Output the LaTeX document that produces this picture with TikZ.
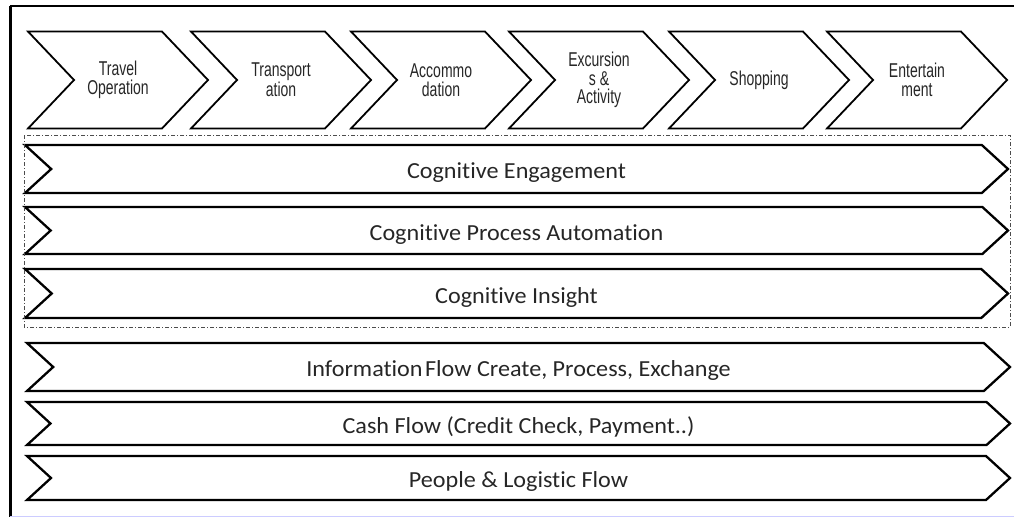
\documentclass[tikz,border=0pt]{standalone}
\usepackage{fontspec}
\setmainfont{Liberation Sans}
\newfontfamily\stagefont[FakeStretch=0.7]{Liberation Sans}
\newfontfamily\flowfont[FakeStretch=1.05,Ligatures=NoCommon]{Carlito}
\usetikzlibrary{shapes.symbols}

\begin{document}
\begin{tikzpicture}[x=1pt,y=-1pt]

		\tikzstyle{stage} = [signal, signal to=east, signal from=west, signal pointer angle=93, draw, line width=1.8pt, minimum width=180pt, minimum height=97pt, inner sep=0pt, align=center, text=black!85, font=\stagefont\fontsize{20}{18.5}\selectfont]
		\tikzstyle{flow}  = [signal, signal to=east, signal from=west, signal pointer angle=85, draw, line width=2.3pt, minimum width=983pt, inner sep=0pt, text height=21pt, text depth=2pt, text=black!85, font=\flowfont\fontsize{23}{26}\selectfont]
		\useasboundingbox (0,0) rectangle (1014,517);
		% frame
		\draw[line width=2pt] (10,6) -- (1014,6);
		\draw[line width=3pt] (10,6) -- (10,517);
		\draw[blue!20, line width=1pt] (10,516) -- (1014,516);
		% value chain
		\node [stage](travel) at (118,80) {Travel\\Operation};
		\node [stage](transport) at (281,80) {Transport\\ation};
		\node [stage](accommo) at (441,80) {Accommo\\dation};
		\node [stage](excursion) at (599,80) {Excursion\\s \&\\Activity};
		\node [stage](shopping) at (759,80) {Shopping};
		\node [stage](entertain) at (917,80) {Entertain\\ment};
		% flows
		\node [flow, minimum height=48pt](engage) at (516.5,169) {Cognitive Engagement};
		\node [flow, minimum height=47pt](automate) at (516.5,230.5) {Cognitive Process Automation};
		\node [flow, minimum height=49pt](insight) at (516.5,293.5) {Cognitive Insight};
		\draw [black!70, line width=1pt, dash pattern=on 4pt off 2pt on 1pt off 2pt] (24,135) rectangle (1010,327);
		\node [flow, minimum height=48pt](info) at (518.5,367) {Information\hspace{-3pt} Flow Create, Process, Exchange};
		\node [flow, minimum height=43pt](cash) at (518.5,423.5) {Cash Flow (Credit Check, Payment..)};
		\node [flow, minimum height=44pt](people) at (518.5,478) {People \& Logistic Flow};

	\end{tikzpicture}
\end{document}
